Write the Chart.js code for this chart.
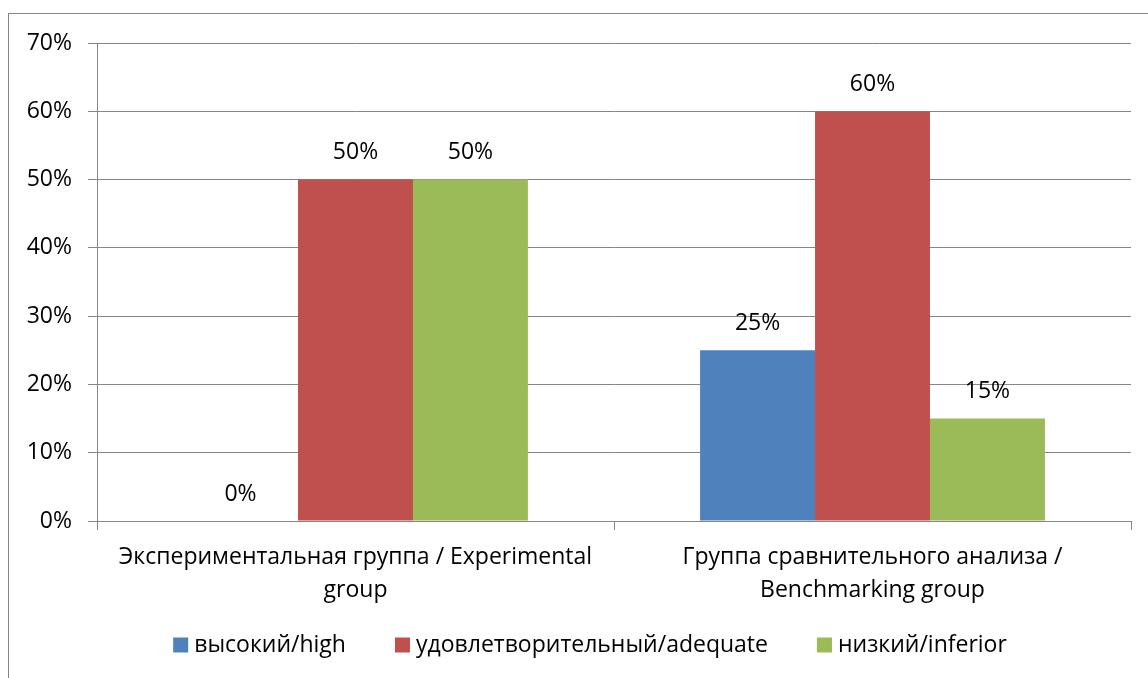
<!DOCTYPE html>
<html>
<head>
<meta charset="utf-8">
<script src="https://cdn.jsdelivr.net/npm/chart.js@4/dist/chart.umd.min.js"></script>
<style>
  html, body { margin: 0; padding: 0; background: #fff; }
  #wrap { position: relative; width: 1148px; height: 678px; }
</style>
</head>
<body>
<div id="wrap"><canvas id="chart"></canvas></div>
<script>
const categories = [
    ['Экспериментальная группа / Experimental', 'group'],
    ['Группа сравнительного анализа /', 'Benchmarking group']
];
const seriesNames = ['высокий/high', 'удовлетворительный/adequate', 'низкий/inferior'];
const seriesColors = ['#4F81BD', '#C0504D', '#9BBB59'];
const highValues = [0, 25];
const adequateValues = [50, 60];
const inferiorValues = [50, 15];
const yTicks = [0, 10, 20, 30, 40, 50, 60, 70];

const FONT = '"Open Sans", "Noto Sans", sans-serif';
const FONT_SIZE = 23;
const GRID = '#868686';

// value labels above each bar
const barLabels = {
    id: 'barLabels',
    afterDatasetsDraw(chart) {
        const ctx = chart.ctx;
        ctx.save();
        ctx.font = FONT_SIZE + 'px ' + FONT;
        ctx.fillStyle = '#000';
        ctx.textAlign = 'center';
        ctx.textBaseline = 'middle';
        chart.data.datasets.forEach((ds, i) => {
            chart.getDatasetMeta(i).data.forEach((bar, j) => {
                ctx.fillText(ds.data[j] + '%', bar.x, bar.y - 27);
            });
        });
        ctx.restore();
    }
};

// legend row under the axis, drawn by hand so the spacing matches
const bottomLegend = {
    id: 'bottomLegend',
    afterDraw(chart) {
        const ctx = chart.ctx;
        const box = 15, gap = 6, spacing = 49, cy = 645;
        ctx.save();
        ctx.font = FONT_SIZE + 'px ' + FONT;
        const items = chart.data.datasets.map(ds => ({
            text: ds.label,
            color: ds.backgroundColor,
            w: ctx.measureText(ds.label).width
        }));
        const total = items.reduce((s, it) => s + box + gap + it.w, 0) + spacing * (items.length - 1);
        let x = 590 - total / 2;
        ctx.textBaseline = 'middle';
        ctx.textAlign = 'left';
        items.forEach(it => {
            ctx.fillStyle = it.color;
            ctx.fillRect(x, cy - box / 2, box, box);
            ctx.fillStyle = '#000';
            ctx.fillText(it.text, x + box + gap, cy);
            x += box + gap + it.w + spacing;
        });
        ctx.restore();
    }
};

// outer chart frame
const frame = {
    id: 'frame',
    beforeDraw(chart) {
        const ctx = chart.ctx;
        ctx.save();
        ctx.strokeStyle = GRID;
        ctx.lineWidth = 1;
        ctx.strokeRect(8.5, 13.5, 1200, 1200);
        ctx.restore();
    }
};

new Chart(document.getElementById('chart'), {
    type: 'bar',
    data: {
        labels: categories,
        datasets: [
            { label: seriesNames[0], data: highValues, backgroundColor: seriesColors[0] },
            { label: seriesNames[1], data: adequateValues, backgroundColor: seriesColors[1] },
            { label: seriesNames[2], data: inferiorValues, backgroundColor: seriesColors[2] }
        ]
    },
    options: {
        responsive: true,
        maintainAspectRatio: false,
        animation: false,
        layout: { padding: { left: 0, right: 17, top: 43, bottom: 67 } },
        datasets: { bar: { categoryPercentage: 0.667, barPercentage: 1.0 } },
        plugins: {
            legend: { display: false },
            tooltip: { enabled: false }
        },
        scales: {
            x: {
                grid: { drawOnChartArea: false, drawTicks: true, tickLength: 9, color: GRID },
                border: { color: GRID },
                ticks: {
                    font: { family: FONT, size: FONT_SIZE, lineHeight: 1.42 },
                    color: '#000',
                    maxRotation: 0,
                    autoSkip: false,
                    padding: 11
                },
                afterFit(scale) { scale.height = 90; }
            },
            y: {
                min: 0,
                max: 70,
                afterBuildTicks(scale) { scale.ticks = yTicks.map(v => ({ value: v })); },
                grid: { color: GRID, tickLength: 9 },
                border: { color: GRID },
                ticks: {
                    font: { family: FONT, size: FONT_SIZE },
                    color: '#000',
                    padding: 16,
                    callback: v => v + '%'
                },
                afterFit(scale) { scale.width = 97; }
            }
        }
    },
    plugins: [barLabels, bottomLegend, frame]
});
</script>
</body>
</html>
